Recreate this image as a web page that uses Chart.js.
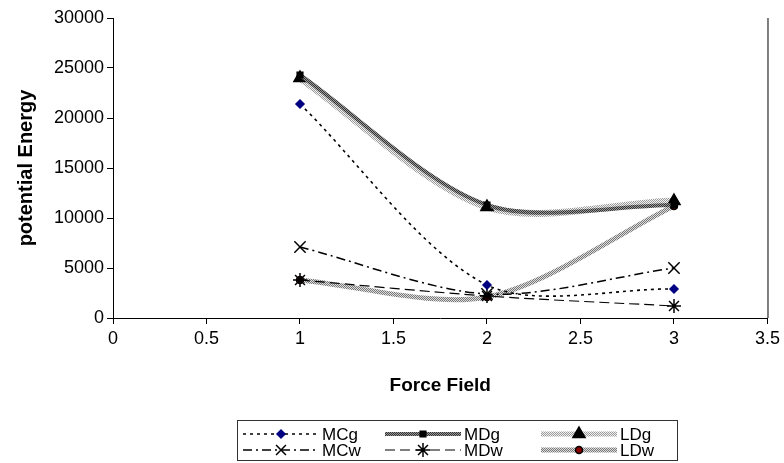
<!DOCTYPE html>
<html>
<head>
<meta charset="utf-8">
<script src="https://cdn.jsdelivr.net/npm/chart.js"></script>
<style>
  html, body { margin: 0; padding: 0; background: #fff; }
  #wrap { width: 784px; height: 463px; }
</style>
</head>
<body>
<div id="wrap"><canvas id="chart" width="784" height="463"></canvas></div>
<script>
// values
const forceField = [1, 2, 3];
const mcg = [21400, 3300, 2900];
const mdg = [24300, 11300, 11300];
const ldg = [24000, 11100, 11700];
const mcw = [7100, 2400, 5000];
const mdw = [3800, 2200, 1200];
const ldw = [3800, 2100, 11200];
const seriesNames = ['MCg', 'MDg', 'LDg', 'MCw', 'MDw', 'LDw'];

// small checker patterns to fake the Excel hatched lines
function pattern(a, b) {
    const c = document.createElement('canvas');
    c.width = 2; c.height = 2;
    const g = c.getContext('2d');
    g.fillStyle = b; g.fillRect(0, 0, 2, 2);
    g.fillStyle = a; g.fillRect(0, 0, 1, 1); g.fillRect(1, 1, 1, 1);
    return g.createPattern(c, 'repeat');
}
const darkPat = pattern('#333', '#999');
const lightPat = pattern('#999', '#f2f2f2');
const midPat = pattern('#777', '#ddd');

function pts(vals) {
    return forceField.map((x, i) => ({x: x, y: vals[i]}));
}

const styles = [
    {color: '#000', width: 1.6, dash: [3, 4], point: 'rectRot', r: 4, fill: '#000080', stroke: '#000080'},
    {color: darkPat, width: 4, dash: [], point: 'rect', r: 4, fill: '#000', stroke: '#000'},
    {color: lightPat, width: 7, dash: [], point: 'triangle', r: 7, fill: '#000', stroke: '#000'},
    {color: '#000', width: 1.5, dash: [9, 4, 2, 4], point: 'crossRot', r: 8, fill: '#000', stroke: '#000'},
    {color: '#000', width: 1.2, dash: [10, 5], point: 'star', r: 7, fill: '#000', stroke: '#000'},
    {color: midPat, width: 5, dash: [], point: 'circle', r: 3.5, fill: '#8b0000', stroke: '#000'}
];
const values = [mcg, mdg, ldg, mcw, mdw, ldw];

const datasets = seriesNames.map((name, i) => ({
    label: name,
    data: pts(values[i]),
    borderColor: styles[i].color,
    borderWidth: styles[i].width,
    borderDash: styles[i].dash,
    pointStyle: styles[i].point,
    pointRadius: styles[i].r,
    pointBackgroundColor: styles[i].fill,
    pointBorderColor: styles[i].stroke,
    pointBorderWidth: 1.5,
    tension: 0.3,
    fill: false
}));

const font = {family: 'Liberation Sans, Arial, sans-serif', size: 18};

// box legend below the axis title, plus right plot border
const boxLegend = {
    id: 'boxLegend',
    afterDraw(chart) {
        const ctx = chart.ctx;
        const ca = chart.chartArea;
        ctx.save();
        ctx.strokeStyle = '#000';
        ctx.lineWidth = 1;
        ctx.beginPath();
        ctx.moveTo(ca.right + 0.5, ca.top);
        ctx.lineTo(ca.right + 0.5, ca.bottom);
        ctx.stroke();

        ctx.strokeStyle = '#333';
        ctx.strokeRect(237.5, 420.5, 440, 40);

        const cols = [243, 385, 541];
        const rows = [434, 450];
        ctx.font = '17px ' + font.family;
        ctx.textBaseline = 'middle';
        chart.data.datasets.forEach((ds, i) => {
            const x0 = cols[i % 3], y = rows[Math.floor(i / 3)];
            const x1 = x0 + 76;
            ctx.save();
            ctx.strokeStyle = ds.borderColor;
            ctx.lineWidth = Math.min(ds.borderWidth, 5);
            ctx.setLineDash(ds.borderDash);
            ctx.beginPath();
            ctx.moveTo(x0, y);
            ctx.lineTo(x1, y);
            ctx.stroke();
            ctx.restore();
            ctx.fillStyle = ds.pointBackgroundColor;
            ctx.strokeStyle = ds.pointBorderColor;
            ctx.lineWidth = 1.5;
            Chart.helpers.drawPoint(ctx, {
                pointStyle: ds.pointStyle,
                radius: Math.min(ds.pointRadius, 7),
                rotation: 0,
                borderWidth: 1.5
            }, (x0 + x1) / 2, y);
            ctx.fillStyle = '#000';
            ctx.fillText(ds.label, x1 + 3, y + 1);
        });
        ctx.restore();
    }
};

new Chart(document.getElementById('chart'), {
    type: 'line',
    data: {datasets: datasets},
    plugins: [boxLegend],
    options: {
        responsive: false,
        animation: false,
        layout: {padding: {left: 0, right: 16, top: 18, bottom: 0}},
        plugins: {
            legend: {display: false},
            tooltip: {enabled: false}
        },
        scales: {
            x: {
                type: 'linear',
                min: 0,
                max: 3.5,
                ticks: {stepSize: 0.5, color: '#000', font: font, padding: 4, maxRotation: 0, callback: v => String(v)},
                grid: {drawOnChartArea: false, tickLength: 6, color: '#000'},
                border: {color: '#000', width: 1},
                title: {
                    display: true,
                    text: 'Force Field',
                    color: '#000',
                    font: {family: font.family, size: 19, weight: 'bold'},
                    padding: {top: 0, bottom: 66}
                },
                afterFit(s) { s.height = 145; }
            },
            y: {
                min: 0,
                max: 30000,
                ticks: {stepSize: 5000, color: '#000', font: font, padding: 3, callback: v => String(v)},
                grid: {drawOnChartArea: false, tickLength: 6, color: '#000'},
                border: {color: '#000', width: 1},
                title: {
                    display: true,
                    text: 'potential Energy',
                    color: '#000',
                    font: {family: font.family, size: 20, weight: 'bold'},
                    padding: {top: 14, bottom: 0}
                },
                afterFit(s) { s.width = 113; }
            }
        }
    }
});
</script>
</body>
</html>
